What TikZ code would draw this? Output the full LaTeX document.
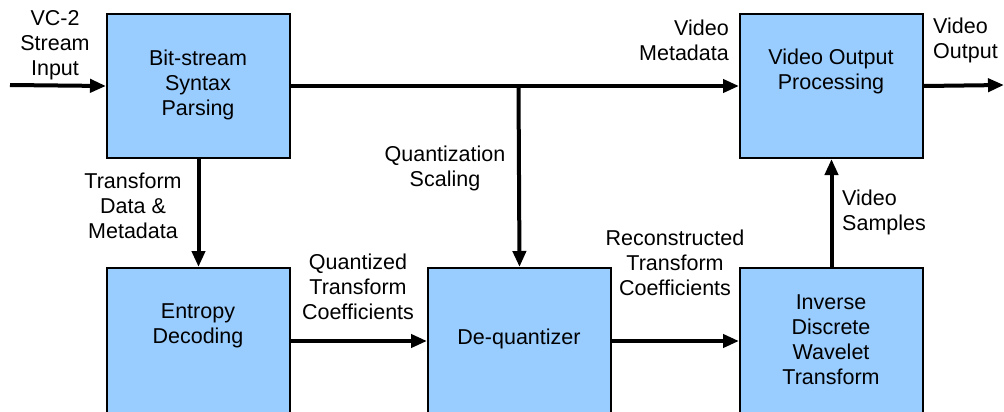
\documentclass[tikz,border=0pt]{standalone}
\usepackage{fontspec}
\setmainfont{Liberation Sans}
\usetikzlibrary{arrows.meta}
\definecolor{boxblue}{HTML}{99CCFF}
\begin{document}
\begin{tikzpicture}[x=1pt,y=-1pt,
  font=\fontsize{21.5}{25}\selectfont,
  block/.style={draw=black, line width=2pt, fill=boxblue, anchor=north west,
    minimum width=183pt, inner sep=0pt},
  upper/.style={block, minimum height=144pt},
  lower/.style={block, minimum height=146pt},
  txt/.style={align=center, inner sep=0pt},
  flow/.style={line width=4pt, -{Triangle[length=16pt,width=13pt]}}]
\useasboundingbox (0,0) rectangle (1004,412);
\clip (0,0) rectangle (1004,412);

% processing blocks
\node[upper] (bsp) at (106,13) {};
\node[upper] (vop) at (739,13) {};
\node[lower] (ent) at (106,267) {};
\node[lower] (deq) at (427,267) {};
\node[lower] (idwt) at (739,267) {};

% block titles
\node[txt] (bspT) at (198,85) {Bit-stream\\Syntax\\Parsing};
\node[txt] (vopT) at (831,71) {Video Output\\Processing};
\node[txt] (entT) at (198,326) {Entropy\\Decoding};
\node[txt] (deqT) at (519,339) {De-quantizer};
\node[txt] (idwtT) at (831,340) {Inverse\\Discrete\\Wavelet\\Transform};

% free ends and branch point
\coordinate (src) at (10,85);
\coordinate (snk) at (1004,85);
\coordinate (br) at (518.5,85);

% connectors
\draw[flow] (src) -- (bsp.west);
\draw[flow] (bsp.east) -- (vop.west);
\draw[flow] (br) -- (deq.north);
\draw[flow] (bsp.south) -- (ent.north);
\draw[flow] (ent.east) -- (deq.west);
\draw[flow] (deq.east) -- (idwt.west);
\draw[flow] (idwt.north) -- (vop.south);
\draw[flow] (vop.east) -- (snk);

% connector labels
\node[txt] (lIn) at (55,45) {VC-2\\Stream\\Input};
\node[txt, align=right, anchor=east] (lMeta) at (729,40) {Video\\Metadata};
\node[txt, align=left, anchor=west] (lOut) at (933,40) {Video\\Output};
\node[txt] (lTD) at (133,206) {Transform\\Data \&\\Metadata};
\node[txt] (lQS) at (445,168) {Quantization\\Scaling};
\node[txt] (lQT) at (358,287) {Quantized\\Transform\\Coefficients};
\node[txt] (lRT) at (675,263) {Reconstructed\\Transform\\Coefficients};
\node[txt, align=left, anchor=west] (lVS) at (842,212) {Video\\Samples};
\end{tikzpicture}
\end{document}
